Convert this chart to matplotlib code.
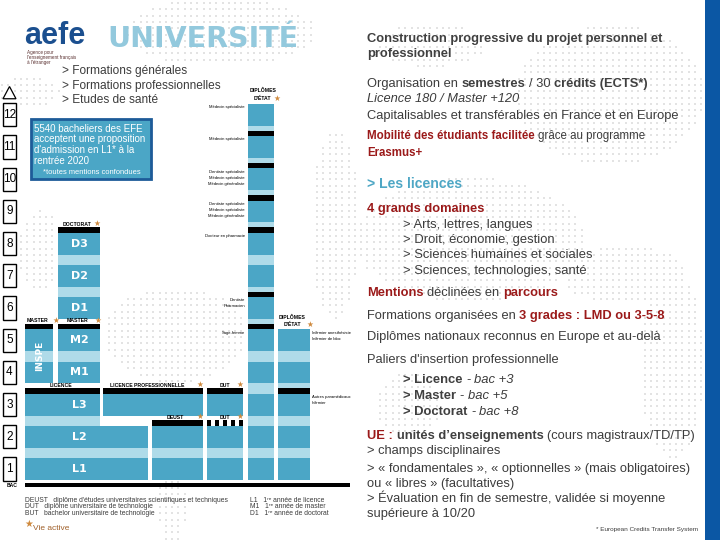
import matplotlib
matplotlib.use("Agg")
import matplotlib.pyplot as plt
import numpy as np
from matplotlib.patches import Rectangle, Polygon

plt.rcParams['font.family'] = ['Liberation Sans', 'DejaVu Sans']

# ---------------- data ----------------
levels = list(range(1, 13))
licence = ["L1", "L2", "L3"]
master = ["M1", "M2"]
doctorat = ["D1", "D2", "D3"]
licence_years = [1, 2, 3]
licence_wide_years = [1, 2]
lp_years = [3]
inspe_years = [4, 5]
master_years = [4, 5]
doctorat_years = [6, 7, 8]
deust_years = [1, 2]
dut_years = [1, 2]
dut3_years = [3]
sante_years = list(range(1, 13))
sante_exits = [5, 6, 8, 9, 10, 11]
para_years = [1, 2, 3, 4, 5]
para_exits = [3]
sante_labels = {
    12: ["Médecin spécialiste"],
    11: ["Médecin spécialiste"],
    10: ["Dentiste spécialiste", "Médecin spécialiste", "Médecin généraliste"],
    9: ["Dentiste spécialiste", "Médecin spécialiste", "Médecin généraliste"],
    8: ["Docteur en pharmacie"],
    6: ["Dentiste", "Pharmacien"],
    5: ["Sage-femme"],
}
para_labels = {5: ["Infirmier anesthésiste", "Infirmier de bloc"],
               3: ["Autres paramédicaux", "Infirmier"]}

# ---------------- style ----------------
W, H = 720, 540
TEAL = "#4ba6c6"
LIGHT = "#afdbe9"
STAR = "#cf8a3e"
RED = "#9b1a1a"
GRAY = "#3c3c3c"
DARK = 0.68   # dark part of a year slot
BAR = 0.17    # black "exit" bar height
PX = 32.2     # pixels per year

fig = plt.figure(figsize=(7.2, 5.4), dpi=100)
ax = fig.add_axes([0, 0, 1, 1])
ax.set_xlim(0, W)
ax.set_ylim(-60 / PX, 480 / PX)
ax.axis("off")

def fx(xp):
    return xp / W

def fy(yp):
    return 1 - yp / H

# faint dotted world-map texture (decorative background)
bg = fig.add_axes([0, 0, 1, 1], zorder=-1)
bg.set_xlim(0, W)
bg.set_ylim(H, 0)
bg.axis("off")
blobs = [(220, 32, 95, 34), (28, 92, 32, 16), (175, 335, 72, 48), (335, 225, 24, 95),
         (172, 505, 14, 38), (470, 240, 115, 62), (610, 95, 95, 70), (430, 45, 55, 22),
         (672, 365, 32, 95), (408, 405, 32, 32), (625, 275, 62, 30), (40, 250, 22, 40)]
gx, gy = np.meshgrid(np.arange(2, 704, 6.3), np.arange(3, 540, 6.3))
gx, gy = gx.ravel(), gy.ravel()
mask = np.zeros(gx.shape, bool)
for cx, cy, rx, ry in blobs:
    mask |= ((gx - cx) / rx) ** 2 + ((gy - cy) / ry) ** 2 <= 1
bg.scatter(gx[mask], gy[mask], s=4.5, marker="s", c="#e3e3e3", linewidths=0)

# right blue band
fig.add_artist(Rectangle((705 / W, 0), 15 / W, 1, transform=fig.transFigure,
                         fc="#0b57a4", ec="none"))

def column(x0, x1, years, bars=(), top_bar=False, dashed=False, labels=None):
    w = x1 - x0
    top = max(years)
    for i, yr in enumerate(years):
        ax.add_patch(Rectangle((x0, yr - 1), w, DARK, fc=TEAL, ec="none"))
        if yr < top:
            ax.add_patch(Rectangle((x0, yr - 1 + DARK), w, 1 - DARK, fc=LIGHT, ec="none"))
        if labels is not None:
            ax.text((58 + 100) / 2, yr - 1 + DARK / 2, labels[i], color="white",
                    fontsize=8, fontweight="bold", ha="center", va="center",
                    family="DejaVu Sans")
    for yr in bars:
        ax.add_patch(Rectangle((x0, yr - 1 + DARK), w, BAR, fc="black", ec="none"))
    if top_bar:
        if dashed:
            n = 9
            for j in range(0, n, 2):
                ax.add_patch(Rectangle((x0 + j * w / n, top - 1 + DARK), w / n, BAR,
                                       fc="black", ec="none"))
            ax.add_patch(Rectangle((x1 - 0.8, top - 1 + DARK), 0.8, BAR, fc="black", ec="none"))
        else:
            ax.add_patch(Rectangle((x0, top - 1 + DARK), w, BAR, fc="black", ec="none"))

column(25, 100, licence_years, top_bar=True, labels=licence)
column(100, 148, licence_wide_years)
column(25, 53, inspe_years, top_bar=True)
column(58, 100, master_years, top_bar=True, labels=master)
column(58, 100, doctorat_years, top_bar=True, labels=doctorat)
column(103, 203, lp_years, top_bar=True)
column(152, 203, deust_years, top_bar=True)
column(207, 243, dut_years, top_bar=True, dashed=True)
column(207, 243, dut3_years, top_bar=True)
column(248, 274, sante_years, bars=sante_exits)
column(278, 310, para_years, bars=para_exits)

ax.text(39.5, (inspe_years[0] - 1 + inspe_years[-1] - 1 + DARK) / 2, "INSPE",
        rotation=90, color="white", fontsize=6.5, fontweight="bold",
        ha="center", va="center", family="DejaVu Sans")

# bac bar
ax.add_patch(Rectangle((25, -0.22), 325, 0.13, fc="black", ec="none"))
ax.text(7, -0.16, "BAC", fontsize=3.6, fontweight="bold", ha="left", va="center")

# level boxes
for k in levels:
    ax.add_patch(Rectangle((3, k - 1 + 0.34 - 0.36), 13, 0.72, fc="white",
                           ec="black", lw=1))
    ax.text(9.5, k - 1 + 0.34, str(k), fontsize=8.5, ha="center", va="center",
            color="black")
tb = levels[-1] - 1 + 0.34 + 0.36 + 0.14
ax.add_patch(Polygon([(3, tb), (16, tb), (9.5, tb + 0.38)], closed=True,
                     fc="white", ec="black", lw=0.9))

# column headings
def heading(x, yr, text, star_x=None, ha="left", dy=0.05):
    y = yr - 1 + DARK + BAR + dy
    ax.text(x, y, text, fontsize=3.7, fontweight="bold", ha=ha, va="baseline",
            color="black")
    if star_x is not None:
        ax.text(star_x, y - 0.02, "★", fontsize=5.5, color=STAR, ha="center",
                va="baseline", family="DejaVu Sans")

heading(62.5, doctorat_years[-1], "DOCTORAT", 97)
heading(27, inspe_years[-1], "MASTER", 55.5)
heading(67, master_years[-1], "MASTER", 97.5)
heading(50, licence_years[-1], "LICENCE")
heading(110, lp_years[-1], "LICENCE PROFESSIONNELLE", 200)
heading(220, dut3_years[-1], "DUT", 240)
heading(167, deust_years[-1], "DEUST", 200)
heading(220, dut_years[-1], "DUT", 240)
# diplomes d'etat
ytop = sante_years[-1] - 1 + DARK
ax.text(276, ytop + 0.38, "DIPLÔMES", fontsize=3.7, fontweight="bold", ha="right",
        va="baseline")
ax.text(271, ytop + 0.12, "D'ÉTAT", fontsize=3.7, fontweight="bold", ha="right",
        va="baseline")
ax.text(276.5, ytop + 0.1, "★", fontsize=5.5, color=STAR, ha="center",
        va="baseline", family="DejaVu Sans")
ypt = para_years[-1] - 1 + DARK
ax.text(279, ypt + 0.32, "DIPLÔMES", fontsize=3.7, fontweight="bold", ha="left",
        va="baseline")
ax.text(284, ypt + 0.1, "D'ÉTAT", fontsize=3.7, fontweight="bold", ha="left",
        va="baseline")
ax.text(310, ypt + 0.08, "★", fontsize=5.5, color=STAR, ha="center",
        va="baseline", family="DejaVu Sans")

for yr, lines in sante_labels.items():
    for i, s in enumerate(lines):
        ax.text(245, yr - 1 + DARK - 0.1 - 0.19 * i, s, fontsize=3.0, ha="right",
                va="center", color="black")
for yr, lines in para_labels.items():
    for i, s in enumerate(lines):
        ax.text(312, yr - 1 + DARK - 0.1 - 0.19 * i, s, fontsize=3.0, ha="left",
                va="center", color="black")

# info box
fig.add_artist(Rectangle((fx(31), fy(179)), 120 / W, 60 / H, transform=fig.transFigure,
                         fc=TEAL, ec="#1d5b98", lw=2))
for s, yb in [("5540 bacheliers des EFE", 131.5), ("acceptent une proposition", 142.5),
              ("d'admission en L1* à la", 153.2), ("rentrée 2020", 164)]:
    fig.text(fx(33.5), fy(yb), s, color="white", fontsize=7.0, va="baseline")
fig.text(fx(43), fy(174), "*toutes mentions confondues", color="white", fontsize=5.4,
         va="baseline")

# header
fig.text(fx(24), fy(44), "aefe", color="#1b4f8f", fontsize=22, fontweight="bold",
         va="baseline")
for s, yb in [("Agence pour", 54), ("l'enseignement français", 59), ("à l'étranger", 64)]:
    fig.text(fx(27), fy(yb), s, color="#5a3030", fontsize=3.3, va="baseline")
fig.text(fx(202.5), fy(47), "UNIVERSITÉ", color="#93c9dd", fontsize=20.5,
         fontweight="bold", family="DejaVu Sans", ha="center", va="baseline")
for s, yb in [("> Formations générales", 74), ("> Formations professionnelles", 89.3),
              ("> Etudes de santé", 103.3)]:
    fig.text(fx(62), fy(yb), s, color=GRAY, fontsize=8.6, va="baseline")

# bottom legend
leg_left = ["DEUST   diplôme d'études universitaires scientifiques et techniques",
            "DUT   diplôme universitaire de technologie",
            "BUT   bachelor universitaire de technologie"]
leg_right = ["L1   1ʳᵉ année de licence", "M1   1ʳᵉ année de master",
             "D1   1ʳᵉ année de doctorat"]
for i, (a, b) in enumerate(zip(leg_left, leg_right)):
    yb = 501.7 + 6.7 * i
    fig.text(fx(25), fy(yb), a, fontsize=4.9, color=GRAY, va="baseline")
    fig.text(fx(250), fy(yb), b, fontsize=4.9, color=GRAY, va="baseline")
fig.text(fx(24), fy(527), "★", fontsize=7, color=STAR, va="baseline", family="DejaVu Sans")
fig.text(fx(33), fy(530), "Vie active", fontsize=6, color="#a0602a", va="baseline")

# ---------------- right panel rich text ----------------
R = fig.canvas.get_renderer()

def twidth(s, kw):
    t = fig.text(0, 0, s, **kw)
    w = t.get_window_extent(R).width
    t.remove()
    return w

N = dict(color=GRAY)
B = dict(color="#404040", fontweight="bold")
RB = dict(color=RED, fontweight="bold")
IT = dict(color=GRAY, style="italic")

def rich(xp, yp, parts, size):
    x = xp
    for s, st in parts:
        kw = dict(fontsize=size)
        kw.update(st)
        sp = twidth("a a", kw) - twidth("aa", kw)
        lead = len(s) - len(s.lstrip(" "))
        trail = len(s) - len(s.rstrip(" "))
        x += lead * sp
        core = s.strip(" ")
        if core:
            t = fig.text(fx(x), fy(yp), core, va="baseline", ha="left", **kw)
            x += t.get_window_extent(R).width
        x += trail * sp

S = 9.3
rich(367, 41.7, [("Construction progressive du projet personnel et", B)], 9.3)
rich(367, 57.3, [("professionnel", B)], 9.3)
rich(367, 87.3, [("Organisation en ", N), ("semestres", B), (" / 30 ", N),
                 ("crédits (ECTS*)", B)], S)
rich(367, 102.3, [("Licence 180 / Master +120", IT)], S)
rich(367, 119, [("Capitalisables et transférables en France et en Europe", N)], S)
rich(367, 139.3, [("Mobilité des étudiants facilitée", RB), (" grâce au programme", N)], 8.3)
rich(367, 156, [("Erasmus+", RB)], 8.3)
rich(367, 188.3, [("> Les licences", dict(color="#4ea7c5", fontweight="bold"))], 10.1)
rich(367, 211.7, [("4 grands domaines", RB)], 9.3)
for s, yb in [("> Arts, lettres, langues", 227.7), ("> Droit, économie, gestion", 243.3),
              ("> Sciences humaines et sociales", 258.3),
              ("> Sciences, technologies, santé", 274.3)]:
    rich(403, yb, [(s, N)], 9.4)
rich(367, 296, [("Mentions", RB), (" déclinées en ", N), ("parcours", RB)], S)
rich(367, 319, [("Formations organisées en ", N), ("3 grades : LMD ou 3-5-8", RB)], S)
rich(367, 340, [("Diplômes nationaux reconnus en Europe et au-delà", N)], S)
rich(367, 362.7, [("Paliers d'insertion professionnelle", N)], S)
for a, b, yb in [("> Licence", "bac +3", 383.3), ("> Master", "bac +5", 399.3),
                 ("> Doctorat", "bac +8", 415)]:
    rich(403, yb, [(a, B), (" - ", N), (b, IT)], 9.4)
rich(367, 439, [("UE : ", RB), ("unités d’enseignements", B),
                (" (cours magistraux/TD/TP)", N)], S)
for s, yb in [("> champs disciplinaires", 454.3),
              ("> « fondamentales », « optionnelles » (mais obligatoires)", 471.7),
              ("ou « libres » (facultatives)", 486.7),
              ("> Évaluation en fin de semestre, validée si moyenne", 501.7),
              ("supérieure à 10/20", 516.7)]:
    rich(367, yb, [(s, N)], S)
fig.text(fx(698), fy(530.7), "* European Credits Transfer System", fontsize=4.6,
         color=GRAY, ha="right", va="baseline")

fig.savefig("out.png", dpi=100)
